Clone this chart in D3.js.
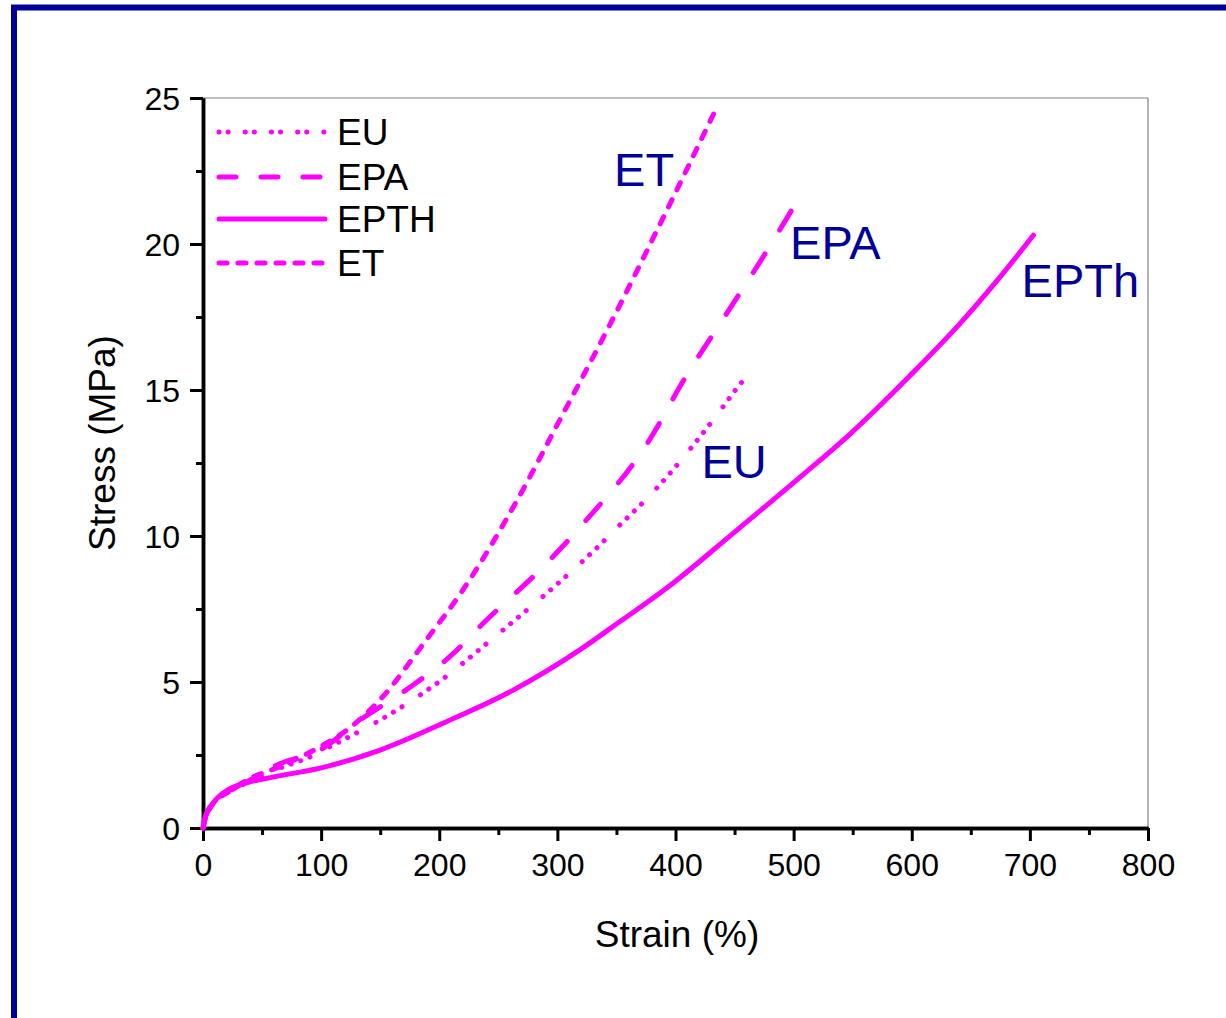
<!DOCTYPE html>
<html>
<head>
<meta charset="utf-8">
<script src="https://cdn.jsdelivr.net/npm/d3@7"></script>
<style>
  body { margin: 0; background: #fff; }
  svg text { font-family: "Liberation Sans", Arial, sans-serif; }
</style>
</head>
<body>
<svg id="visframe" width="1226" height="1018"></svg>
<script>
// strain (%) / stress (MPa) pairs
var euData = [[0,0],[2,0.35],[8,0.8],[22,1.25],[40,1.6],[65,2.05],[88,2.39],[113,2.9],[150,3.7],[188,4.67],[202,5.07],[237,6.21],[264,7.12],[299,8.32],[333,9.58],[353,10.38],[380,11.46],[435,14.14],[452,15.06],[466,15.75]];
var epaData = [[0,0],[2,0.35],[8,0.8],[22,1.25],[40,1.65],[65,2.2],[99,2.67],[133,3.7],[172,4.73],[212,5.98],[237,7.0],[291,9.07],[322,10.43],[378,13.29],[407,15.34],[443,17.6],[477,19.74],[499,21.2]];
var epthData = [[0,0],[2,0.4],[8.5,0.85],[23,1.35],[37,1.55],[60,1.75],[99,2.05],[150,2.67],[206,3.64],[263,4.73],[319,6.1],[353,7.07],[392,8.2],[449,10.1],[505,12.0],[548,13.5],[598,15.47],[641,17.28],[675,18.88],[703,20.3]];
var etData = [[0,0],[2,0.35],[8,0.8],[22,1.25],[40,1.7],[65,2.1],[99,2.78],[122,3.36],[150,4.4],[189,6.44],[220,8.15],[266,11.23],[302,13.97],[345,17.28],[392,21.1],[434,24.6]];

var seriesNames = ["EU", "EPA", "EPTH", "ET"];
var seriesData = [euData, epaData, epthData, etData];
var annoNames = ["EU", "EPA", "EPTh", "ET"];
var annoPos = [[422, 12.0], [497, 19.5], [693, 18.2], [348, 22.0]];

var xTicks = [0,100,200,300,400,500,600,700,800];
var yTicks = [0,5,10,15,20,25];

var plot = { left: 203, right: 1148, top: 98, bottom: 828 };
var magenta = "#ff00ff";
var navy = "#000099";
var dashes = ["0.1 10 0.1 10 0.1 10 0.1 22", "22 28", null, "8 11"];
var legendDashes = ["0.1 9 0.1 17", "17 25", null, "8 11"];

var svg = d3.select("#visframe");

// page frame
svg.append("rect")
    .attr("x", 14).attr("y", 7.5)
    .attr("width", 1400).attr("height", 1200)
    .attr("fill", "none")
    .attr("stroke", navy)
    .attr("stroke-width", 6);

var x = d3.scaleLinear().domain([0, 800]).range([plot.left, plot.right]);
var y = d3.scaleLinear().domain([0, 25]).range([plot.bottom, plot.top]);

// thin top/right frame
svg.append("line").attr("x1", plot.left).attr("x2", plot.right)
    .attr("y1", plot.top).attr("y2", plot.top)
    .attr("stroke", "#808080").attr("stroke-width", 1.2);
svg.append("line").attr("x1", plot.right).attr("x2", plot.right)
    .attr("y1", plot.top).attr("y2", plot.bottom)
    .attr("stroke", "#808080").attr("stroke-width", 1.2);

//Axes
var xAxis = svg.append("g")
    .attr("transform", "translate(0," + plot.bottom + ")")
    .call(d3.axisBottom(x).tickValues(xTicks).tickSize(13).tickPadding(12).tickSizeOuter(0));
var xMinor = svg.append("g")
    .attr("transform", "translate(0," + plot.bottom + ")")
    .call(d3.axisBottom(x).tickValues(d3.range(50, 800, 100)).tickSize(7).tickFormat("").tickSizeOuter(0));

var yAxis = svg.append("g")
    .attr("transform", "translate(" + plot.left + ",0)")
    .call(d3.axisLeft(y).tickValues(yTicks).tickSize(13).tickPadding(10).tickSizeOuter(0));
var yMinor = svg.append("g")
    .attr("transform", "translate(" + plot.left + ",0)")
    .call(d3.axisLeft(y).tickValues(d3.range(2.5, 25, 5)).tickSize(7).tickFormat("").tickSizeOuter(0));

[xAxis, xMinor, yAxis, yMinor].forEach(function(g){
    g.selectAll(".domain").attr("stroke", "#000").attr("stroke-width", 3.5);
    g.selectAll(".tick line").attr("stroke", "#000").attr("stroke-width", 3);
    g.selectAll(".tick text")
        .attr("fill", "#000")
        .style("font-size", "32px")
        .style("font-family", "'Liberation Sans', Arial, sans-serif");
});
yAxis.selectAll(".tick text").attr("dy", "0.36em");

// axis titles
svg.append("text")
    .attr("x", 677).attr("y", 947)
    .attr("text-anchor", "middle")
    .style("font-size", "37px")
    .text("Strain (%)");
svg.append("text")
    .attr("transform", "translate(115,443) rotate(-90)")
    .attr("text-anchor", "middle")
    .style("font-size", "37px")
    .text("Stress (MPa)");

// curves
var line = d3.line()
    .x(function(d){ return x(d[0]); })
    .y(function(d){ return y(d[1]); })
    .curve(d3.curveMonotoneX);

svg.append("g").selectAll("path")
    .data(seriesData)
    .enter()
    .append("path")
    .attr("d", line)
    .attr("fill", "none")
    .attr("stroke", magenta)
    .attr("stroke-width", 5)
    .attr("stroke-linecap", "round")
    .attr("stroke-dasharray", function(d, i){ return dashes[i]; });

// annotations
svg.append("g").selectAll("text")
    .data(annoNames)
    .enter()
    .append("text")
    .attr("x", function(d, i){ return x(annoPos[i][0]); })
    .attr("y", function(d, i){ return y(annoPos[i][1]); })
    .attr("fill", navy)
    .style("font-size", "47px")
    .text(function(d){ return d; });

// legend
var legendY = [132, 177, 219, 263];
var legend = svg.append("g");
var rows = legend.selectAll(".legGroup")
    .data(seriesNames)
    .enter()
    .append("g")
    .attr("class", "legGroup");
rows.append("line")
    .attr("x1", 219).attr("x2", 325)
    .attr("y1", function(d, i){ return legendY[i]; })
    .attr("y2", function(d, i){ return legendY[i]; })
    .attr("stroke", magenta)
    .attr("stroke-width", 5)
    .attr("stroke-linecap", "round")
    .attr("stroke-dasharray", function(d, i){ return legendDashes[i]; });
rows.append("text")
    .attr("x", 337)
    .attr("y", function(d, i){ return legendY[i] + 13; })
    .style("font-size", "37px")
    .text(function(d){ return d; });
</script>
</body>
</html>
